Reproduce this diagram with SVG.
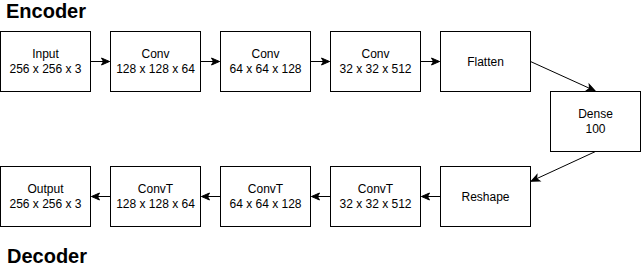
<svg xmlns="http://www.w3.org/2000/svg" width="641" height="267" viewBox="0 0 641 267">
<style>
.box{fill:#ffffff;stroke:#000000;stroke-width:1}
.lbl{font-family:"Liberation Sans",Arial,Helvetica,sans-serif;font-size:12px;fill:#000000;text-anchor:middle}
.title{font-family:"Liberation Sans",Arial,Helvetica,sans-serif;font-size:20px;font-weight:bold;fill:#000000}
.edge{fill:none;stroke:#000000;stroke-width:1}
</style>
<defs>
<marker id="arrow" markerUnits="userSpaceOnUse" markerWidth="10" markerHeight="8" refX="8" refY="3.5" orient="auto" overflow="visible">
<path d="M0,0 L8,3.5 L0,7 L2,3.5 Z" fill="#000000" stroke="#000000" stroke-width="1"/>
</marker>
</defs>
<rect width="641" height="267" fill="#ffffff"/>
<text class="title" x="6" y="18">Encoder</text>
<text class="title" x="7" y="263">Decoder</text>
<g id="connectors">
<line class="edge" x1="90.5" y1="61.5" x2="109.5" y2="61.5" marker-end="url(#arrow)"/>
<line class="edge" x1="200.5" y1="61.5" x2="219.5" y2="61.5" marker-end="url(#arrow)"/>
<line class="edge" x1="310.5" y1="61.5" x2="329.5" y2="61.5" marker-end="url(#arrow)"/>
<line class="edge" x1="420.5" y1="61.5" x2="439.5" y2="61.5" marker-end="url(#arrow)"/>
<line class="edge" x1="530.5" y1="61.5" x2="595" y2="90.8" marker-end="url(#arrow)"/>
<line class="edge" x1="595.5" y1="151.5" x2="531.2" y2="181.2" marker-end="url(#arrow)"/>
<line class="edge" x1="440.5" y1="196.5" x2="421.5" y2="196.5" marker-end="url(#arrow)"/>
<line class="edge" x1="330.5" y1="196.5" x2="311.5" y2="196.5" marker-end="url(#arrow)"/>
<line class="edge" x1="220.5" y1="196.5" x2="201.5" y2="196.5" marker-end="url(#arrow)"/>
<line class="edge" x1="110.5" y1="196.5" x2="91.5" y2="196.5" marker-end="url(#arrow)"/>
</g>
<g id="input"><rect class="box" x="0.5" y="31.5" width="90" height="60"/><text class="lbl" x="45.5" y="58">Input</text><text class="lbl" x="45.5" y="73">256 x 256 x 3</text></g>
<g id="conv1"><rect class="box" x="110.5" y="31.5" width="90" height="60"/><text class="lbl" x="155.5" y="58">Conv</text><text class="lbl" x="155.5" y="73">128 x 128 x 64</text></g>
<g id="conv2"><rect class="box" x="220.5" y="31.5" width="90" height="60"/><text class="lbl" x="265.5" y="58">Conv</text><text class="lbl" x="265.5" y="73">64 x 64 x 128</text></g>
<g id="conv3"><rect class="box" x="330.5" y="31.5" width="90" height="60"/><text class="lbl" x="375.5" y="58">Conv</text><text class="lbl" x="375.5" y="73">32 x 32 x 512</text></g>
<g id="flatten"><rect class="box" x="440.5" y="31.5" width="90" height="60"/><text class="lbl" x="485.5" y="65.5">Flatten</text></g>
<g id="dense"><rect class="box" x="550.5" y="91.5" width="90" height="60"/><text class="lbl" x="595.5" y="118">Dense</text><text class="lbl" x="595.5" y="133">100</text></g>
<g id="reshape"><rect class="box" x="440.5" y="166.5" width="90" height="60"/><text class="lbl" x="485.5" y="200.5">Reshape</text></g>
<g id="convt3"><rect class="box" x="330.5" y="166.5" width="90" height="60"/><text class="lbl" x="375.5" y="193">ConvT</text><text class="lbl" x="375.5" y="208">32 x 32 x 512</text></g>
<g id="convt2"><rect class="box" x="220.5" y="166.5" width="90" height="60"/><text class="lbl" x="265.5" y="193">ConvT</text><text class="lbl" x="265.5" y="208">64 x 64 x 128</text></g>
<g id="convt1"><rect class="box" x="110.5" y="166.5" width="90" height="60"/><text class="lbl" x="155.5" y="193">ConvT</text><text class="lbl" x="155.5" y="208">128 x 128 x 64</text></g>
<g id="output"><rect class="box" x="0.5" y="166.5" width="90" height="60"/><text class="lbl" x="45.5" y="193">Output</text><text class="lbl" x="45.5" y="208">256 x 256 x 3</text></g>
</svg>
